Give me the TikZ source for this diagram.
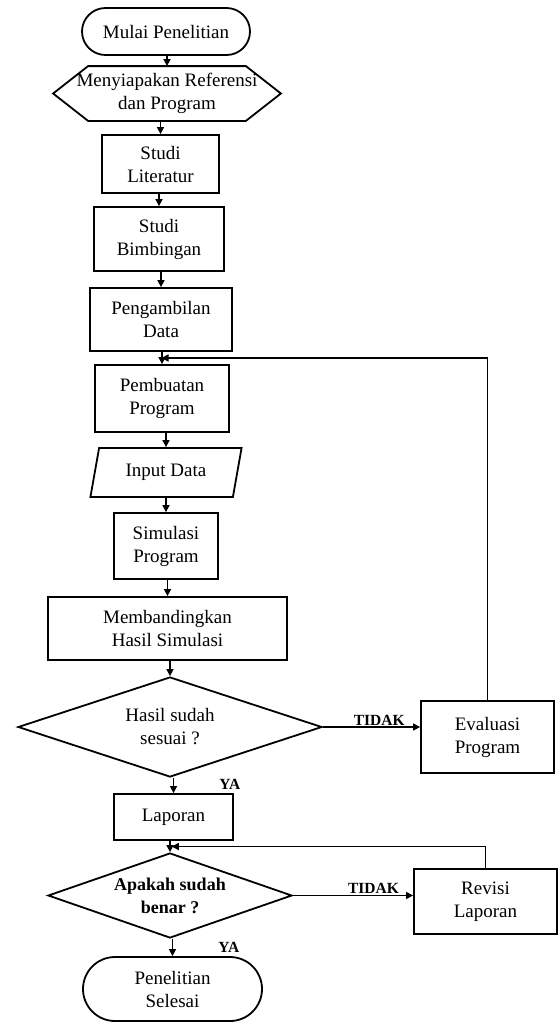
\documentclass[tikz,border=0pt]{standalone}
\usepackage{fontspec}
\setmainfont{Liberation Serif}
\usetikzlibrary{shapes.geometric,shapes.misc,arrows.meta,positioning,calc}

\tikzset{
  base/.style={draw, line width=1.8pt, align=center, inner sep=2pt,
    font=\fontsize{19}{23}\selectfont},
  box/.style={base, rectangle},
  term/.style={base, rounded rectangle},
  io/.style={base, trapezium, trapezium left angle=75,
    trapezium right angle=105, trapezium stretches=true},
  decision/.style={base, diamond, aspect=3},
  arr/.style={line width=1.5pt, -{Triangle[length=7pt,width=7pt]}},
  lbl/.style={font=\fontsize{15.5}{18}\selectfont\bfseries, inner sep=1pt}
}

\begin{document}
\begin{tikzpicture}[x=1pt, y=-1pt]
\useasboundingbox (0,0) rectangle (558,1023);

% main column
\node[term, minimum width=172pt, minimum height=47pt] (start) at (166,31.5) {Mulai Penelitian};
\node[base, draw=none, minimum width=226pt, minimum height=53pt] (prep) at (167,93.5)
  {Menyiapakan Referensi\\dan Program};
\draw[line width=1.8pt] (prep.west) -- ([xshift=35pt]prep.north west)
  -- ([xshift=-35pt]prep.north east) -- (prep.east)
  -- ([xshift=-35pt]prep.south east) -- ([xshift=35pt]prep.south west) -- cycle;
\node[box, minimum width=117pt, minimum height=58pt] (lit) at (160.5,164) {Studi\\Literatur};
\node[box, minimum width=130pt, minimum height=64pt] (bimb) at (159,239) {Studi\\Bimbingan};
\node[box, minimum width=142pt, minimum height=63pt] (data) at (161,319.5) {Pengambilan\\Data};
\node[box, minimum width=134pt, minimum height=67pt] (prog) at (162,398.5) {Pembuatan\\Program};
\node[io, minimum width=152pt, minimum height=49pt] (input) at (166,472.5) {Input Data};
\node[box, minimum width=104pt, minimum height=66pt] (sim) at (166,546) {Simulasi\\Program};
\node[box, minimum width=239pt, minimum height=63pt] (comp) at (167.5,628.5)
  {Membandingkan\\Hasil Simulasi};
\node[decision, minimum width=304pt, minimum height=100pt] (dec1) at (170,727)
  {Hasil sudah\\sesuai ?};
\node[box, minimum width=119pt, minimum height=46pt] (lap) at (173.5,817) {Laporan};
\node[decision, minimum width=244pt, minimum height=85pt,
  font=\fontsize{18}{23}\selectfont\bfseries] (dec2) at (170,895.5) {Apakah sudah\\benar ?};
\node[term, minimum width=183pt, minimum height=64pt] (end) at (172.5,989) {Penelitian\\Selesai};

% side boxes
\node[box, minimum width=133pt, minimum height=72pt] (eval) at (487.5,737) {Evaluasi\\Program};
\node[box, minimum width=143pt, minimum height=65pt] (rev) at (485.5,901.5) {Revisi\\Laporan};

% arrows
\foreach \a/\b in {start/prep, prep/lit, lit/bimb, bimb/data, data/prog, prog/input,
  input/sim, sim/comp, comp/dec1, lap/dec2}
  \draw[arr] (\a.south -| \b.north) -- (\b.north);
\draw[arr] (dec1.south -| lap.north) -- (lap.north)
  node[lbl, pos=.4, right=44pt] (ya1) {YA};
\draw[arr] (dec2.south -| end.north) -- (end.north)
  node[lbl, pos=.5, right=44pt] (ya2) {YA};
\draw[arr] (dec1.east) -- (dec1.east -| eval.west)
  node[lbl, pos=.58, above] (no1) {TIDAK};
\draw[arr] (dec2.east) -- (dec2.east -| rev.west)
  node[lbl, pos=.67, above] (no2) {TIDAK};

% loops back
\coordinate (m1) at ($(data.south)!.5!(prog.north)$);
\coordinate (m2) at ($(lap.south)!.5!(dec2.north)$);
\draw[arr] (eval.north) |- (m1);
\draw[arr] (rev.north) |- (m2);
\end{tikzpicture}
\end{document}
